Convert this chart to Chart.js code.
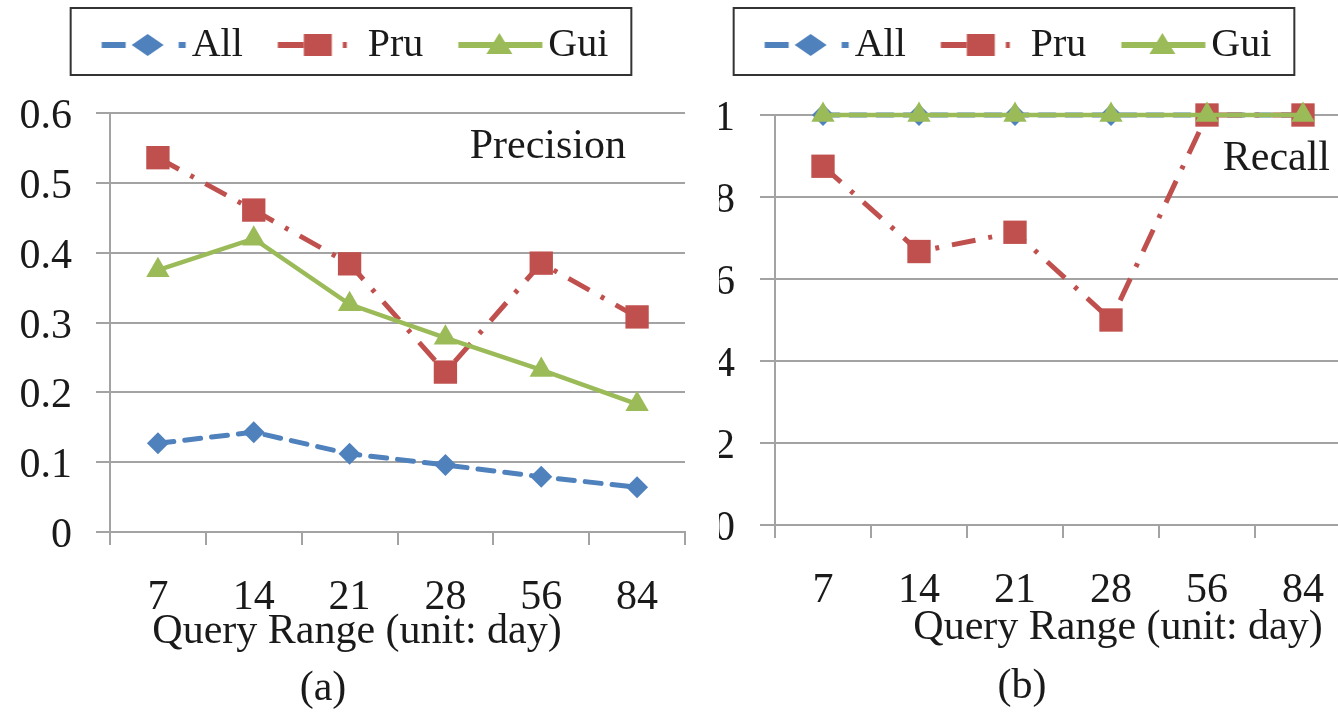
<!DOCTYPE html>
<html>
<head>
<meta charset="utf-8">
<script src="https://cdn.jsdelivr.net/npm/chart.js@4/dist/chart.umd.min.js"></script>
<style>
  html, body { margin: 0; padding: 0; background: #fff; width: 1338px; height: 715px; overflow: hidden; }
  .panel { position: absolute; top: 0; height: 715px; }
  #leftPanel { left: 0; width: 719px; background: #fff; z-index: 2; }
  #rightPanel { left: 660px; width: 720px; z-index: 1; }
  .lbl { position: absolute; width: 600px; text-align: center; font: 42px 'Liberation Serif', 'Times New Roman', serif; line-height: 48px; color: #1a1a1a; z-index: 3; white-space: nowrap; }
</style>
</head>
<body>
<div class="panel" id="leftPanel"><canvas id="precision" width="719" height="715"></canvas></div>
<div class="panel" id="rightPanel"><canvas id="recall" width="720" height="715"></canvas></div>
<div class="lbl" style="left:57px; top:605px;">Query Range (unit: day)</div>
<div class="lbl" style="left:818px; top:601px;">Query Range (unit: day)</div>
<div class="lbl" style="left:23px; top:662px;">(a)</div>
<div class="lbl" style="left:722px; top:660px;">(b)</div>
<script>
const days = ['7', '14', '21', '28', '56', '84'];
const seriesNames = ['All', 'Pru', 'Gui'];

const precisionAll = [0.127, 0.143, 0.112, 0.096, 0.079, 0.064];
const precisionPru = [0.536, 0.461, 0.384, 0.229, 0.385, 0.308];
const precisionGui = [0.375, 0.420, 0.326, 0.278, 0.232, 0.183];

const recallAll = [1, 1, 1, 1, 1, 1];
const recallPru = [0.875, 0.667, 0.714, 0.5, 1, 1];
const recallGui = [1, 1, 1, 1, 1, 1];

const colors = ['#4F81BD', '#C0504D', '#9BBB59'];
const serif = "'Liberation Serif', 'Times New Roman', serif";
const textColor = '#1a1a1a';
const gridColor = '#a3a3a3';

// legend symbol: short line + stretched marker, like the office-style legend
function legendSymbol(i) {
    const c = document.createElement('canvas');
    c.width = 160; c.height = 40;
    const g = c.getContext('2d');
    const x0 = 57.5, y = 20;
    const dashes = [[24, 53, 7, 100], [26, 39, 4, 100], []];
    const markAt = [46, 40, 41];
    g.strokeStyle = g.fillStyle = colors[i];
    g.lineWidth = 6;
    g.setLineDash(dashes[i]);
    g.beginPath(); g.moveTo(x0, y); g.lineTo(x0 + 84, y); g.stroke();
    g.setLineDash([]);
    const cx = x0 + markAt[i];
    g.beginPath();
    if (i === 0) {
        g.moveTo(cx - 16, y); g.lineTo(cx, y - 11); g.lineTo(cx + 16, y); g.lineTo(cx, y + 11);
    } else if (i === 1) {
        g.rect(cx - 14, y - 11, 28, 22);
    } else {
        g.moveTo(cx, y - 12); g.lineTo(cx + 13, y + 9); g.lineTo(cx - 13, y + 9);
    }
    g.closePath();
    g.fill();
    return c;
}
const symbols = [0, 1, 2].map(legendSymbol);

const legendHeight = {
    id: 'legendHeight',
    beforeUpdate(chart, args, opts) {
        const lg = chart.legend;
        if (lg && !lg._fixedHeight) {
            const fit = lg.fit;
            lg.fit = function () { fit.call(this); this.height = opts.height; };
            lg._fixedHeight = true;
        }
    }
};

const legendFrame = {
    id: 'legendFrame',
    afterDraw(chart) {
        const lg = chart.legend;
        const hb = lg.legendHitBoxes;
        if (!hb || !hb.length) return;
        const last = hb[hb.length - 1];
        const ctx = chart.ctx;
        ctx.save();
        ctx.strokeStyle = '#333';
        ctx.lineWidth = 2;
        ctx.strokeRect(hb[0].left - 6, lg.top - 7, last.left + last.width + 23 - (hb[0].left - 6), 67);
        ctx.restore();
    }
};

const cornerLabel = {
    id: 'cornerLabel',
    afterDraw(chart, args, opts) {
        const ctx = chart.ctx;
        const a = chart.chartArea;
        ctx.save();
        ctx.font = '42px ' + serif;
        ctx.fillStyle = textColor;
        ctx.textAlign = 'right';
        ctx.textBaseline = 'alphabetic';
        ctx.fillText(opts.text, a.right - opts.dx, a.top + opts.dy);
        ctx.restore();
    }
};

function makeDatasets(all, pru, gui) {
    return [
        {
            label: seriesNames[0], data: all, order: 2,
            borderColor: colors[0], backgroundColor: colors[0],
            borderWidth: 5, borderDash: [16, 11], borderCapStyle: 'round',
            pointStyle: 'rectRot', pointRadius: 11, pointBorderWidth: 0
        },
        {
            label: seriesNames[1], data: pru, order: 1,
            borderColor: colors[1], backgroundColor: colors[1],
            borderWidth: 5, borderDash: [24, 13, 4, 13],
            pointStyle: 'rect', pointRadius: 16.5, pointBorderWidth: 0
        },
        {
            label: seriesNames[2], data: gui, order: 0,
            borderColor: colors[2], backgroundColor: colors[2],
            borderWidth: 4.5,
            pointStyle: 'triangle', pointRadius: 13.5, pointBorderWidth: 0
        }
    ];
}

function makeChart(el, o) {
    return new Chart(el, {
        type: 'line',
        data: { labels: days, datasets: makeDatasets(o.all, o.pru, o.gui) },
        options: {
            responsive: false,
            animation: false,
            clip: false,
            layout: { padding: { top: 15, right: o.padRight, bottom: 0, left: 0 } },
            datasets: { line: { tension: 0, clip: false } },
            scales: {
                x: {
                    offset: true,
                    grid: { offset: true, drawOnChartArea: false, drawTicks: true, tickLength: 13, color: gridColor, lineWidth: 2 },
                    border: { color: gridColor, width: 2 },
                    ticks: { font: { family: serif, size: 42 }, color: textColor, padding: 28, maxRotation: 0, autoSkip: false },
                    afterFit: s => { s.height = o.xHeight; }
                },
                y: {
                    min: 0, max: o.max,
                    grid: { color: gridColor, lineWidth: 2, tickLength: o.tickLen },
                    border: { color: gridColor, width: 2 },
                    ticks: {
                        stepSize: o.step, font: { family: serif, size: 42 }, color: textColor,
                        padding: o.tickPad, labelOffset: 4,
                        callback: v => String(+v.toFixed(1))
                    },
                    afterFit: s => { s.width = o.yWidth; }
                }
            },
            plugins: {
                tooltip: { enabled: false },
                legendHeight: { height: o.legendH },
                cornerLabel: { text: o.corner, dx: o.cornerDx, dy: o.cornerDy },
                legend: {
                    position: 'top',
                    labels: {
                        usePointStyle: true,
                        pointStyleWidth: 95,
                        padding: 10,
                        color: textColor,
                        font: { family: serif, size: 40 },
                        generateLabels: chart => chart.data.datasets.map((d, i) => ({
                            text: d.label,
                            pointStyle: symbols[i],
                            fillStyle: colors[i],
                            strokeStyle: colors[i],
                            lineWidth: 0,
                            hidden: false,
                            datasetIndex: i,
                            fontColor: textColor
                        }))
                    }
                }
            }
        },
        plugins: [legendHeight, legendFrame, cornerLabel]
    });
}

makeChart(document.getElementById('precision'), {
    all: precisionAll, pru: precisionPru, gui: precisionGui,
    max: 0.6, step: 0.1, padRight: 34, xHeight: 183, yWidth: 110,
    tickLen: 14, tickPad: 24, legendH: 98,
    corner: 'Precision', cornerDx: 59, cornerDy: 45
});

makeChart(document.getElementById('recall'), {
    all: recallAll, pru: recallPru, gui: recallGui,
    max: 1, step: 0.2, padRight: 29, xHeight: 190, yWidth: 115,
    tickLen: 15, tickPad: 25, legendH: 100,
    corner: 'Recall', cornerDx: 21, cornerDy: 55
});
</script>
</body>
</html>
